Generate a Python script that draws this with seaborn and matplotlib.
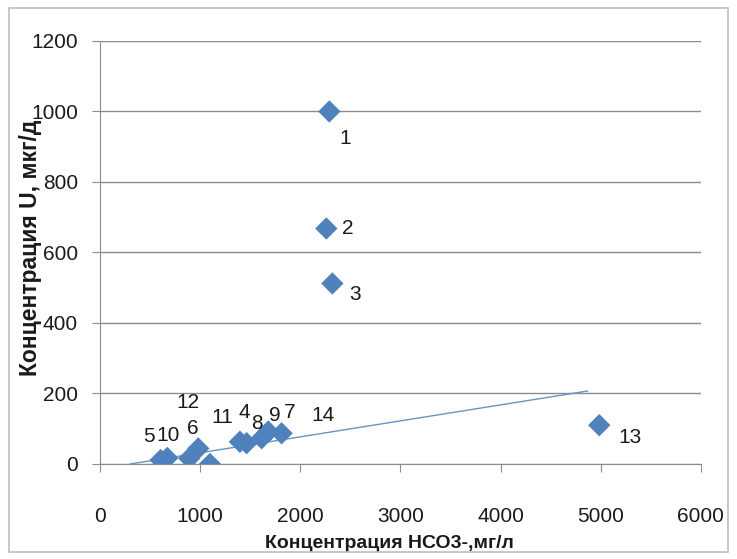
import matplotlib
matplotlib.use('Agg')
import matplotlib.pyplot as plt
import seaborn as sns
import pandas as pd
from matplotlib.patches import Rectangle

# well number, HCO3- (mg/l), U (mkg/l)
wells = ['1', '2', '3', '4', '5', '6', '7', '8', '9', '10', '11', '12', '13', '14']
hco3 = [2290, 2260, 2320, 1397, 605, 891, 1680, 1464, 1614, 672, 1098, 981, 4985, 1813]
uran = [1000, 668, 512, 63, 11, 16, 92, 59, 73, 17, 0, 44, 110, 87]

# linear trend line end points
trend_x = [300, 4870]
trend_y = [0, 207]

# label offsets (pixels) relative to each point
label_offsets = {
    '1': (16, -27), '2': (21, 0), '3': (23, -11), '4': (4, 29), '5': (-12, 24),
    '6': (4, 30), '7': (21, 19), '8': (10, 20), '9': (13, 23), '10': (1, 22),
    '11': (12, 46), '12': (-10, 46), '13': (31, -12), '14': (41, 18),
}

df = pd.DataFrame({'well': wells, 'hco3': hco3, 'u': uran})
trend = pd.DataFrame({'x': trend_x, 'y': trend_y})

sns.set_style('white')
plt.rcParams['font.family'] = ['Liberation Sans', 'DejaVu Sans']

fig = plt.figure(figsize=(7.37, 5.59), dpi=100)
ax = fig.add_axes([0.1357, 0.170, 0.8153, 0.7567])

sns.lineplot(data=trend, x='x', y='y', ax=ax, color='#6a93c4', linewidth=1.0, zorder=2)
sns.scatterplot(data=df, x='hco3', y='u', ax=ax, marker='D', s=130, color='#4f81bd',
                edgecolor='none', zorder=3)

for w, x, y in zip(wells, hco3, uran):
    dx, dy = label_offsets[w]
    ax.annotate(w, (x, y), xytext=(dx, dy), textcoords='offset pixels',
                ha='center', va='center', fontsize=15, color='#1a1a1a')

ax.set_xlim(0, 6000)
ax.set_ylim(0, 1200)
ax.set_xticks(range(0, 6001, 1000))
ax.set_yticks(range(0, 1201, 200))
ax.yaxis.grid(True, color='#8c8c8c', linewidth=1.0)
ax.set_axisbelow(True)
for side in ['top', 'right']:
    ax.spines[side].set_visible(False)
for side in ['left', 'bottom']:
    ax.spines[side].set_color('#8c8c8c')
ax.tick_params(axis='both', direction='out', length=6, color='#8c8c8c', labelsize=15,
               labelcolor='#1a1a1a', bottom=True, left=True)
ax.tick_params(axis='x', pad=25)
ax.tick_params(axis='y', pad=10)

ax.set_xlabel('Концентрация НСО3-,мг/л', fontsize=14, fontweight='bold', color='#1a1a1a')
ax.set_ylabel('Концентрация U, мкг/д', fontsize=16.5, fontweight='bold', color='#1a1a1a')
ax.xaxis.set_label_coords(0.4825, -0.168)
ax.yaxis.set_label_coords(-0.097, 0.51)

fig.patches.append(Rectangle((0.012, 0.012), 0.976, 0.973, transform=fig.transFigure,
                             fill=False, edgecolor='#bfbfbf', linewidth=1.2))

fig.savefig('out.png', dpi=100)
